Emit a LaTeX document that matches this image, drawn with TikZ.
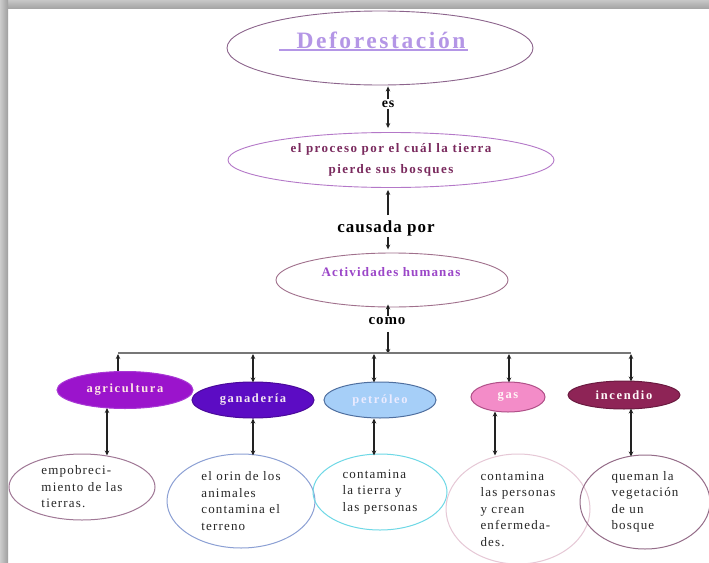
\documentclass[tikz,border=0pt]{standalone}
\usepackage{fontspec}
\setmainfont{Liberation Serif}
\newfontfamily\lsa[LetterSpace=6]{Liberation Serif}
\newfontfamily\lsb[LetterSpace=9]{Liberation Serif}
\newfontfamily\lsc[LetterSpace=11]{Liberation Serif}
\newfontfamily\lsd[LetterSpace=13]{Liberation Serif}
\usetikzlibrary{shapes.geometric,arrows.meta}
\definecolor{topborder}{HTML}{8C648C}
\definecolor{lav}{HTML}{B496E6}
\definecolor{etwoborder}{HTML}{B478C8}
\definecolor{etwotext}{HTML}{7A2A5E}
\definecolor{ethreeborder}{HTML}{A0708C}
\definecolor{ethreetext}{HTML}{9B46C8}
\definecolor{agrifill}{HTML}{9B14CC}
\definecolor{agridraw}{HTML}{A838D4}
\definecolor{ganfill}{HTML}{5C0CC4}
\definecolor{gandraw}{HTML}{4A0A9A}
\definecolor{petfill}{HTML}{A6CFF8}
\definecolor{petdraw}{HTML}{4F6F9F}
\definecolor{gasfill}{HTML}{F38CC8}
\definecolor{gasdraw}{HTML}{B05088}
\definecolor{incfill}{HTML}{8E2456}
\definecolor{incdraw}{HTML}{6A1A40}
\definecolor{leafa}{HTML}{A07896}
\definecolor{leafb}{HTML}{8CA0D4}
\definecolor{leafc}{HTML}{6ED8E6}
\definecolor{leafd}{HTML}{E6C8D6}
\definecolor{leafe}{HTML}{946C88}
\definecolor{hline}{HTML}{777777}
\definecolor{arr}{HTML}{222222}
\begin{document}
\begin{tikzpicture}[x=1pt,y=-1pt,
  oval/.style={ellipse,inner sep=0pt,line width=0.9pt},
  catnode/.style={ellipse,inner sep=0pt,line width=1pt,font=\lsd\bfseries\fontsize{12.5}{14}\selectfont},
  leafnode/.style={ellipse,inner sep=0pt,line width=1pt,align=left,text=black!85,font=\lsb\fontsize{13}{16.5}\selectfont},
  linklabel/.style={inner sep=1pt,text=black},
  conn/.style={draw=arr,line width=1.1pt,-{Stealth[length=5pt,width=4.5pt]}},
  dconn/.style={draw=arr,line width=1.1pt,{Stealth[length=5pt,width=4.5pt]}-{Stealth[length=5pt,width=4.5pt]}}
]
\useasboundingbox (0,0) rectangle (709,562);
\fill[white] (0,0) rectangle (709,562);
% frame shadow
\shade[top color=black!22, bottom color=black!35] (0,0) rectangle (709,8);
\shade[left color=black!20, right color=black!38] (0,0) rectangle (8,562);

% main chain
\node[oval,draw=topborder,minimum width=306pt,minimum height=74pt] (top) at (380,48) {};
\node[inner sep=0pt,text=lav,font=\lsc\bfseries\fontsize{23.5}{26}\selectfont] (ttl) at (381,40) {Deforestación};
\draw[lav,line width=1.6pt] (279,50) -- (468,50);

\node[linklabel,font=\lsa\bfseries\fontsize{14}{16}\selectfont] (es) at (388,104) {es};

\node[oval,draw=etwoborder,minimum width=326pt,minimum height=55pt,align=center,text=etwotext,
  font=\lsc\bfseries\fontsize{13}{21}\selectfont] (proc) at (391,160)
  {el proceso por el cuál la tierra\\pierde sus bosques};

\node[linklabel,font=\lsa\bfseries\fontsize{17}{19}\selectfont] (causa) at (386,228) {causada por};

\node[oval,draw=ethreeborder,minimum width=232pt,minimum height=54pt] (act) at (392,280) {};
\node[inner sep=0pt,text=ethreetext,font=\lsb\bfseries\fontsize{13}{15}\selectfont] (actt) at (391,272) {Actividades humanas};

\node[linklabel,font=\lsa\bfseries\fontsize{15}{17}\selectfont] (como) at (387,321) {como};

\draw[conn] (es.north) -- ([yshift=-1pt]es.north |- top.south);
\draw[conn] (es.south) -- ([yshift=4pt]es.south |- proc.north);
\draw[conn] ([yshift=4pt]causa.north -| es.north) -- ([yshift=-2pt]es.north |- proc.south);
\draw[conn] (causa.south -| es.north) -- ([yshift=3pt]es.north |- act.north);
\draw[conn] (como.north -| es.north) -- ([yshift=3pt]es.north |- act.south);

% distribution line
\coordinate (hc) at (388,353);
\coordinate (ha) at (118,353);
\coordinate (hb) at (253,353);
\coordinate (hp) at (374,353);
\coordinate (hg) at (509,353);
\coordinate (hi) at (631,353);
\draw[conn] ([yshift=-6pt]como.south -| hc) -- ([yshift=-1pt]hc);
\draw[hline,line width=1.4pt] (ha) -- (hi);

% categories
\node[catnode,fill=agrifill,draw=agridraw,text=pink!40,minimum width=136pt,minimum height=37pt] (agri) at (125,390) {agricultura};
\node[catnode,fill=ganfill,draw=gandraw,text=violet!10,minimum width=122pt,minimum height=36pt] (gan) at (253,400) {ganadería};
\node[catnode,fill=petfill,draw=petdraw,text=white!92!blue,minimum width=112pt,minimum height=36pt] (pet) at (380,400) {petróleo};
\node[catnode,fill=gasfill,draw=gasdraw,text=white!85!pink,minimum width=74pt,minimum height=30pt] (gas) at (508,397) {gas};
\node[catnode,fill=incfill,draw=incdraw,text=white!92!pink,minimum width=112pt,minimum height=28pt] (inc) at (624,395) {incendio};

\draw[arr,line width=1.1pt,{Stealth[length=5pt,width=4.5pt]}-] ([yshift=-1pt]ha) -- (ha |- agri.north);
\draw[dconn] ([yshift=-1pt]hb) -- ([yshift=-1pt]hb |- gan.north);
\draw[dconn] ([yshift=-1pt]hp) -- ([yshift=-1pt]hp |- pet.north);
\draw[dconn] ([yshift=-1pt]hg) -- ([yshift=-1pt]hg |- gas.north);
\draw[dconn] ([yshift=-1pt]hi) -- ([yshift=-1pt]hi |- inc.north);

% leaves
\node[leafnode,draw=leafa,minimum width=146pt,minimum height=66pt] (la) at (82,487)
  {empobreci-\\miento de las\\tierras.};
\node[leafnode,draw=leafb,minimum width=148pt,minimum height=94pt] (lb) at (241,501)
  {el orin de los\\animales\\contamina el\\terreno};
\node[leafnode,draw=leafc,minimum width=134pt,minimum height=76pt] (lc) at (380,492)
  {contamina\\la tierra y\\las personas};
\node[leafnode,draw=leafd,minimum width=144pt,minimum height=110pt] (ld) at (518,509)
  {contamina\\las personas\\y crean\\enfermeda-\\des.};
\node[leafnode,draw=leafe,minimum width=130pt,minimum height=94pt] (le) at (645,502)
  {queman la\\vegetación\\de un\\bosque};

\coordinate (va) at (107,0);
\coordinate (vb) at (253,0);
\coordinate (vp) at (374,0);
\coordinate (vg) at (495,0);
\coordinate (vi) at (631,0);
\draw[dconn] ([yshift=1pt]va |- agri.south) -- ([yshift=-2pt]va |- la.north);
\draw[dconn] (vb |- gan.south) -- ([yshift=-2pt]vb |- lb.north);
\draw[dconn] (vp |- pet.south) -- ([yshift=-2pt]vp |- lc.north);
\draw[dconn] ([yshift=1pt]vg |- gas.south) -- ([yshift=-2pt]vg |- ld.north);
\draw[dconn] ([yshift=1pt]vi |- inc.south) -- ([yshift=-2pt]vi |- le.north);
\end{tikzpicture}
\end{document}
